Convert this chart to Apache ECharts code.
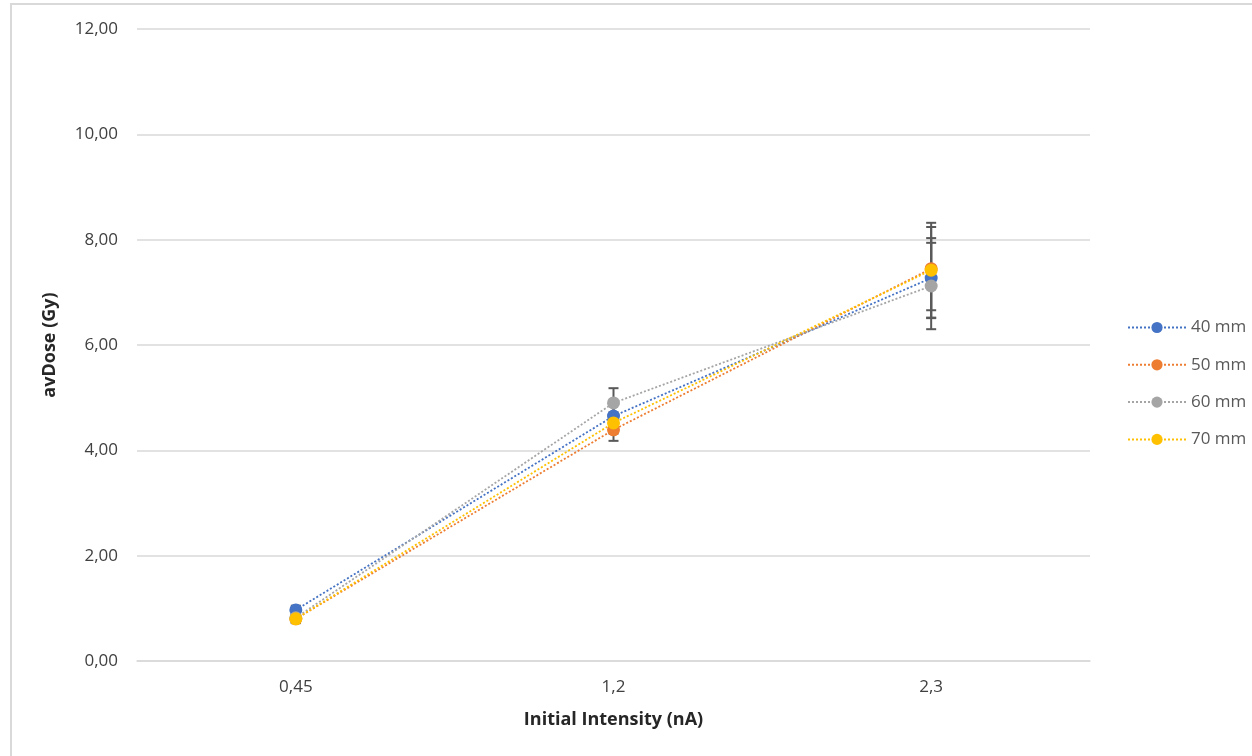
<!DOCTYPE html>
<html>
<head>
<meta charset="utf-8">
<script src="https://cdn.jsdelivr.net/npm/echarts@6/dist/echarts.min.js"></script>
<style>html,body{margin:0;padding:0;background:#fff;}#c{width:1252px;height:756px;}</style>
</head>
<body>
<div id="c"></div>
<script>
const categories = ['0,45', '1,2', '2,3'];
const seriesNames = ['40 mm', '50 mm', '60 mm', '70 mm'];
const values40 = [0.97, 4.65, 7.27];
const values50 = [0.80, 4.39, 7.45];
const values60 = [0.82, 4.90, 7.12];
const values70 = [0.80, 4.52, 7.42];
const err40 = [0.08, 0.25, 0.76];
const err50 = [0.08, 0.21, 0.79];
const err60 = [0.08, 0.28, 0.82];
const err70 = [0.08, 0.20, 0.90];
const yTicks = [0, 2, 4, 6, 8, 10, 12];

const colors = ['#4472C4', '#ED7D31', '#A5A5A5', '#FFC000'];
const allValues = [values40, values50, values60, values70];
const allErrs = [err40, err50, err60, err70];
const FONT = '"Open Sans", "Liberation Sans", sans-serif';

const errData = [];
allValues.forEach((vals, s) => {
  vals.forEach((v, i) => {
    errData.push([i, v - allErrs[s][i], v + allErrs[s][i]]);
  });
});

const chart = echarts.init(document.getElementById('c'), null, {renderer: 'canvas'});

const lineSeries = allValues.map((vals, s) => ({
  name: seriesNames[s],
  type: 'line',
  data: vals,
  symbol: 'circle',
  symbolSize: 13,
  z: 3,
  itemStyle: {color: colors[s]},
  lineStyle: {color: colors[s], width: 1.8, type: [2, 2]},
  emphasis: {disabled: true}
}));

const option = {
  animation: false,
  backgroundColor: '#ffffff',
  color: colors,
  grid: {left: 137, right: 162, top: 29, bottom: 95, containLabel: false},
  graphic: [{
    type: 'rect',
    shape: {x: 11, y: 4, width: 1300, height: 800},
    style: {fill: 'none', stroke: '#d9d9d9', lineWidth: 2},
    silent: true, z: -10
  }],
  legend: {
    orient: 'vertical',
    left: 1127,
    top: 319,
    padding: 0,
    itemWidth: 58,
    itemHeight: 14,
    itemGap: 20.3,
    data: seriesNames,
    textStyle: {color: '#595959', fontSize: 17, lineHeight: 14, fontFamily: FONT}
  },
  xAxis: {
    type: 'category',
    data: categories,
    boundaryGap: true,
    name: 'Initial Intensity (nA)',
    nameLocation: 'middle',
    nameGap: 50,
    nameTextStyle: {color: '#262626', fontSize: 18, fontWeight: 'bold', fontFamily: FONT},
    axisLine: {show: true, lineStyle: {color: '#d9d9d9', width: 1.5}},
    axisTick: {show: false},
    axisLabel: {color: '#404040', fontSize: 17, fontFamily: FONT, margin: 18},
    splitLine: {show: false}
  },
  yAxis: {
    type: 'value',
    min: yTicks[0],
    max: yTicks[yTicks.length - 1],
    interval: 2,
    name: 'avDose (Gy)',
    nameLocation: 'middle',
    nameGap: 78,
    nameTextStyle: {color: '#262626', fontSize: 18, fontWeight: 'bold', fontFamily: FONT},
    axisLine: {show: false},
    axisTick: {show: false},
    axisLabel: {
      color: '#404040', fontSize: 17, fontFamily: FONT, margin: 19,
      formatter: v => v.toFixed(2).replace('.', ',')
    },
    splitLine: {lineStyle: {color: '#d9d9d9', width: 1.5}}
  },
  series: [{
    type: 'custom',
    name: 'errors',
    z: 2,
    silent: true,
    data: errData,
    encode: {x: 0, y: [1, 2]},
    renderItem: function (params, api) {
      const idx = api.value(0);
      const lo = api.coord([idx, api.value(1)]);
      const hi = api.coord([idx, api.value(2)]);
      const hw = 5;
      const st = {stroke: '#595959', lineWidth: 2};
      return {
        type: 'group',
        children: [
          {type: 'line', shape: {x1: lo[0], y1: lo[1], x2: hi[0], y2: hi[1]}, style: st},
          {type: 'line', shape: {x1: lo[0] - hw, y1: lo[1], x2: lo[0] + hw, y2: lo[1]}, style: st},
          {type: 'line', shape: {x1: hi[0] - hw, y1: hi[1], x2: hi[0] + hw, y2: hi[1]}, style: st}
        ]
      };
    }
  }].concat(lineSeries)
};
chart.setOption(option);
</script>
</body>
</html>
